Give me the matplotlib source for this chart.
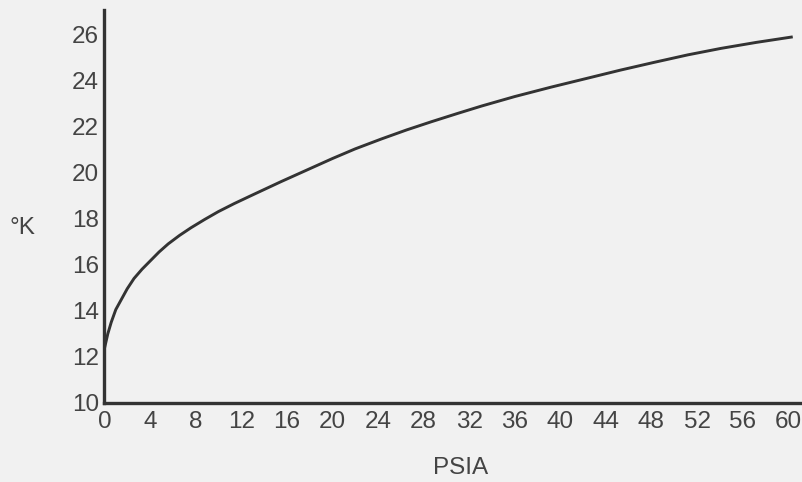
import matplotlib
matplotlib.use("Agg")
import matplotlib.pyplot as plt
import numpy as np

# vapour pressure curve
psia = [0, 0.3, 0.6, 1.0, 1.5, 2.0, 2.6, 3.3, 4.1, 4.8, 5.6, 6.6, 7.6, 8.8,
        10.0, 11.4, 12.9, 15.5, 17.3, 20.0, 22.0, 24.3, 26.5, 28.7, 31.0,
        33.1, 36.0, 39.2, 42.5, 45.3, 48.2, 51.2, 54.1, 57.2, 60.4]
kelvin = [12.35, 13.0, 13.5, 14.05, 14.5, 14.95, 15.4, 15.8, 16.2, 16.55,
          16.9, 17.27, 17.6, 17.96, 18.3, 18.65, 19.0, 19.6, 20.0, 20.6,
          21.02, 21.45, 21.84, 22.2, 22.56, 22.88, 23.29, 23.7, 24.1, 24.44,
          24.77, 25.1, 25.38, 25.64, 25.88]

x_ticks = list(range(0, 61, 4))
y_ticks = list(range(10, 27, 2))

bg = "#f1f1f1"
ink = "#333333"
txt = "#444444"

fig = plt.figure(figsize=(8.03, 4.82), dpi=100, facecolor=bg)
ax = fig.add_axes([0.130, 0.164, 0.870, 0.815])
ax.set_facecolor(bg)

ax.plot(psia, kelvin, color=ink, linewidth=2.1, solid_capstyle="butt")

ax.set_xlim(0, 61.3)
ax.set_ylim(10, 27.04)
ax.set_xticks(x_ticks)
ax.set_yticks(y_ticks)

for side in ["top", "right"]:
    ax.spines[side].set_visible(False)
for side in ["left", "bottom"]:
    ax.spines[side].set_linewidth(2.4)
    ax.spines[side].set_color(ink)

ax.tick_params(axis="both", length=0, labelsize=17.5, labelcolor=txt)
ax.tick_params(axis="y", pad=4)
ax.tick_params(axis="x", pad=6)
for lab in ax.get_xticklabels() + ax.get_yticklabels():
    lab.set_fontfamily("Liberation Sans")

ax.set_xlabel("PSIA", fontsize=17.5, color=txt, family="Liberation Sans",
              va="center", ha="center")
ax.xaxis.set_label_coords(0.51, -0.165)
ax.set_ylabel("°K", fontsize=17.5, color=txt, family="Liberation Sans",
              rotation=0, va="center", ha="center")
ax.yaxis.set_label_coords(-0.117, 0.445)

fig.savefig("out.png", dpi=100, facecolor=bg)
